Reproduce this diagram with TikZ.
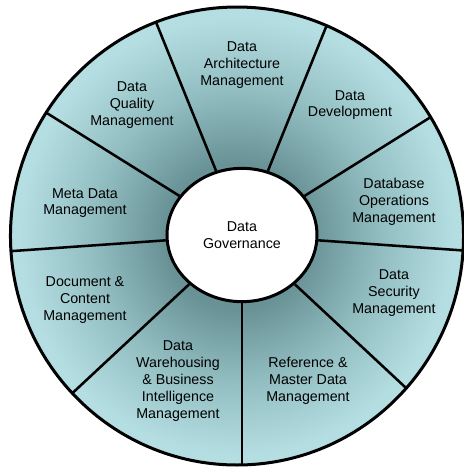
\documentclass[tikz,border=0pt]{standalone}
\usepackage{fontspec}
\setmainfont{Liberation Sans}
\usetikzlibrary{shapes.geometric,calc}

\definecolor{wheeldark}{RGB}{104,146,150}
\definecolor{wheelmid}{RGB}{146,189,193}
\definecolor{wheellight}{RGB}{180,222,226}
\pgfdeclareradialshading{wheelshade}{\pgfpoint{0bp}{0bp}}{color(0bp)=(wheeldark); color(8bp)=(wheeldark); color(16bp)=(wheelmid); color(24bp)=(wheellight); color(50bp)=(wheellight)}

\tikzset{
  seglabel/.style={inner sep=0.75pt, align=center, font=\fontsize{10.7}{12.6}\selectfont},
  spoke/.style={line width=1.9pt},
  rim/.style={line width=2.25pt},
}

\begin{document}
\begin{tikzpicture}[x=0.75pt,y=0.75pt,yscale=-1,xscale=1]
\useasboundingbox (0,0) rectangle (464,469);

%Shape: Ellipse [outer wheel, shaded]
\shade [shading=wheelshade] (237,236) ellipse [x radius=169.9pt, y radius=171.75pt];

%Shape: Ellipse [hub]
\node [ellipse, draw, rim, fill=white, minimum width=112.5pt, minimum height=100pt, seglabel] (hub) at (242,235) {Data\\Governance};

%Straight Lines [spokes]
\begin{scope}
\clip (237,236) ellipse [x radius=169.9pt, y radius=171.75pt];
\foreach \a in {68,112,32,148,356,184,317,223,270}
  \draw [spoke] (hub.\a) -- ($(hub.center)!190pt!(hub.\a)$);
\end{scope}

%Shape: Ellipse [outer rim]
\draw [rim] (237,236) ellipse [x radius=169.9pt, y radius=171.75pt];

% Text Node
\node [seglabel] (arch) at (242,65) {Data\\Architecture\\Management};
% Text Node
\node [seglabel] (dev) at (350,105) {Data\\Development};
% Text Node
\node [seglabel] (dbops) at (394,202) {Database\\Operations\\Management};
% Text Node
\node [seglabel] (sec) at (394,293) {Data\\Security\\Management};
% Text Node
\node [seglabel] (refmd) at (308,381) {Reference \&\\Master Data\\Management};
% Text Node
\node [seglabel] (dwbi) at (178,381) {Data\\Warehousing\\\& Business\\Intelligence\\Management};
% Text Node
\node [seglabel] (doc) at (85,300) {Document \&\\Content\\Management};
% Text Node
\node [seglabel] (meta) at (85,203) {Meta Data\\Management};
% Text Node
\node [seglabel] (qual) at (132,105) {Data\\Quality\\Management};
\end{tikzpicture}
\end{document}
